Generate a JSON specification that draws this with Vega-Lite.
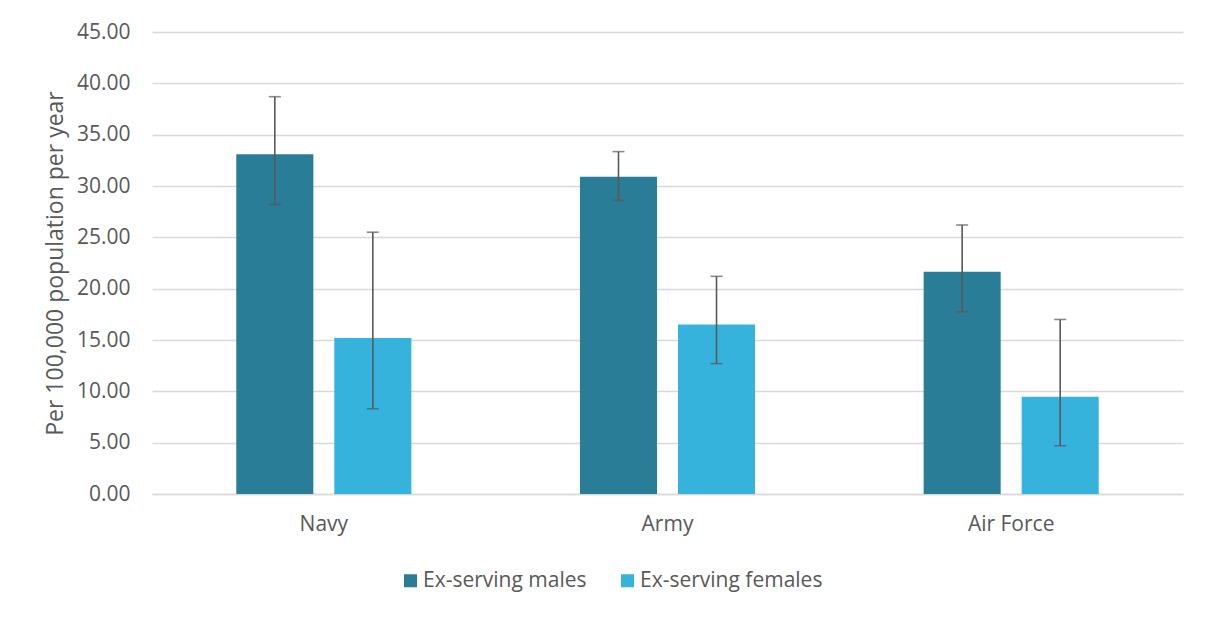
{
  "$schema": "https://vega.github.io/schema/vega-lite/v6.json",
  "autosize": "none",
  "width": 1031,
  "height": 462,
  "padding": {"left": 152, "top": 32, "right": 27, "bottom": 125},
  "background": "white",
  "data": {
    "values": [
      {"branch": "Navy", "group": "Ex-serving males", "rate": 33.1, "lower": 28.2, "upper": 38.7},
      {"branch": "Navy", "group": "Ex-serving females", "rate": 15.2, "lower": 8.3, "upper": 25.5},
      {"branch": "Army", "group": "Ex-serving males", "rate": 30.9, "lower": 28.6, "upper": 33.35},
      {"branch": "Army", "group": "Ex-serving females", "rate": 16.5, "lower": 12.7, "upper": 21.2},
      {"branch": "Air Force", "group": "Ex-serving males", "rate": 21.65, "lower": 17.76, "upper": 26.2},
      {"branch": "Air Force", "group": "Ex-serving females", "rate": 9.48, "lower": 4.7, "upper": 17.0}
    ]
  },
  "encoding": {
    "x": {
      "field": "branch",
      "type": "nominal",
      "sort": ["Navy", "Army", "Air Force"],
      "title": null,
      "scale": {"paddingInner": 0, "paddingOuter": 0},
      "axis": {
        "labelAngle": 0,
        "ticks": false,
        "domainColor": "#d9d9d9",
        "domainWidth": 1.5,
        "labelPadding": 19,
        "grid": false
      }
    },
    "xOffset": {
      "field": "group",
      "sort": ["Ex-serving males", "Ex-serving females"],
      "scale": {"paddingInner": 0.214, "paddingOuter": 0.86}
    }
  },
  "layer": [
    {
      "mark": {"type": "bar"},
      "encoding": {
        "y": {
          "field": "rate",
          "type": "quantitative",
          "title": "Per 100,000 population per year",
          "scale": {"domain": [0, 45]},
          "axis": {
            "values": [0, 5, 10, 15, 20, 25, 30, 35, 40, 45],
            "format": ".2f",
            "domain": false,
            "ticks": false,
            "labelPadding": 22,
            "gridColor": "#d9d9d9",
            "gridWidth": 1.5,
            "titlePadding": 9,
            "titleFontSize": 23
          }
        },
        "color": {
          "field": "group",
          "type": "nominal",
          "sort": ["Ex-serving males", "Ex-serving females"],
          "scale": {"range": ["#2a7d97", "#36b3dd"]},
          "legend": {
            "title": null,
            "orient": "none",
            "direction": "horizontal",
            "legendX": 248,
            "legendY": 538,
            "symbolType": "square",
            "symbolSize": 169,
            "symbolStrokeWidth": 0,
            "columnPadding": 30,
            "labelOffset": 2
          }
        }
      }
    },
    {
      "mark": {"type": "rule", "color": "#595959", "strokeWidth": 1.6},
      "encoding": {
        "y": {"field": "lower", "type": "quantitative"},
        "y2": {"field": "upper"}
      }
    },
    {
      "mark": {"type": "tick", "color": "#595959", "thickness": 1.6, "size": 12, "orient": "horizontal"},
      "encoding": {
        "y": {"field": "upper", "type": "quantitative"}
      }
    },
    {
      "mark": {"type": "tick", "color": "#595959", "thickness": 1.6, "size": 12, "orient": "horizontal"},
      "encoding": {
        "y": {"field": "lower", "type": "quantitative"}
      }
    }
  ],
  "config": {
    "view": {"stroke": null},
    "font": "Open Sans",
    "axis": {
      "labelFont": "Open Sans",
      "labelFontSize": 21,
      "labelColor": "#595959",
      "titleFont": "Open Sans",
      "titleFontSize": 21,
      "titleFontWeight": "normal",
      "titleColor": "#595959"
    },
    "legend": {
      "labelFont": "Open Sans",
      "labelFontSize": 21,
      "labelColor": "#595959",
      "labelLimit": 300,
      "padding": 0
    }
  }
}
